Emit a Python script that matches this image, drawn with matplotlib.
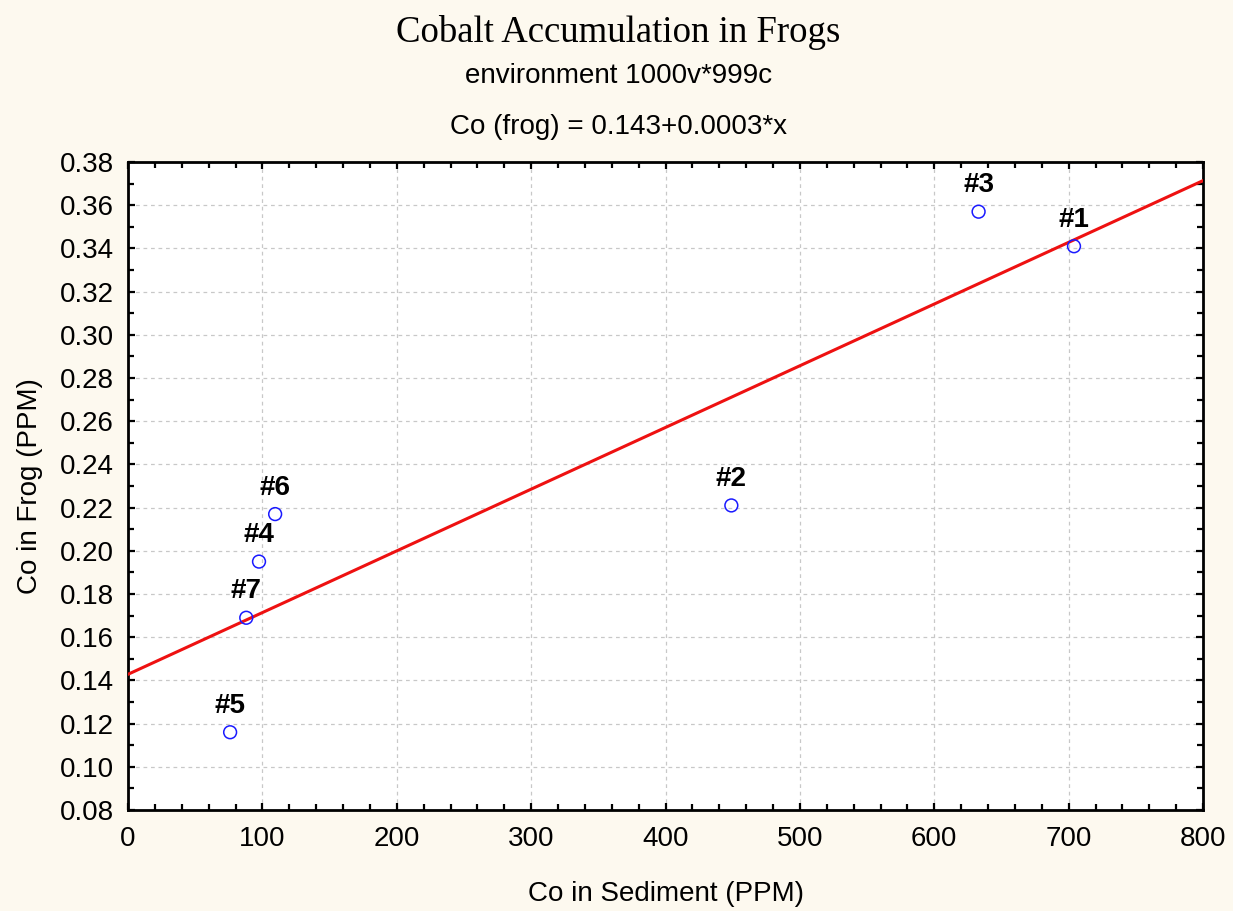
import numpy as np
import matplotlib
matplotlib.use("Agg")
import matplotlib.pyplot as plt
from matplotlib.ticker import MultipleLocator, FormatStrFormatter

# Cobalt in sediment vs. cobalt in frog tissue (PPM)
sites = ["#1", "#2", "#3", "#4", "#5", "#6", "#7"]
sediment = [704, 449, 633, 97.5, 76, 109.5, 88]
frog = [0.341, 0.221, 0.357, 0.195, 0.116, 0.217, 0.169]

x_ticks = [0, 100, 200, 300, 400, 500, 600, 700, 800]
y_ticks = [0.08, 0.10, 0.12, 0.14, 0.16, 0.18, 0.20, 0.22, 0.24, 0.26,
           0.28, 0.30, 0.32, 0.34, 0.36, 0.38]

bg = "#fdf9ef"
sans = ["Liberation Sans", "DejaVu Sans"]
serif = ["Liberation Serif", "DejaVu Serif"]
fs = 20

fig = plt.figure(figsize=(12.33, 9.11), dpi=100, facecolor=bg)
ax = fig.add_axes([128 / 1233, 1 - 810 / 911, 1075 / 1233, 648 / 911])
ax.set_facecolor("white")

# least-squares fit drawn across the full x range
slope, intercept = np.polyfit(sediment, frog, 1)
xx = np.array([x_ticks[0], x_ticks[-1]])
ax.plot(xx, intercept + slope * xx, color="#ee1111", lw=2.2, zorder=3)

ax.scatter(sediment, frog, s=85, facecolors="none", edgecolors="#1a1aff",
           linewidths=1.1, zorder=4)
for name, xv, yv in zip(sites, sediment, frog):
    ax.annotate(name, (xv, yv), xytext=(0, 19), textcoords="offset points",
                ha="center", va="center", fontsize=fs, fontweight="bold",
                family=sans, color="black", zorder=5)

ax.set_xlim(x_ticks[0], x_ticks[-1])
ax.set_ylim(y_ticks[0], y_ticks[-1])
ax.set_xticks(x_ticks)
ax.set_yticks(y_ticks)
ax.xaxis.set_minor_locator(MultipleLocator(20))
ax.yaxis.set_minor_locator(MultipleLocator(0.01))
ax.yaxis.set_major_formatter(FormatStrFormatter("%.2f"))
ax.tick_params(which="both", direction="in", top=True, right=True,
               width=1.6, labelsize=fs, pad=10)
ax.tick_params(axis="x", which="both", pad=11.5)
ax.tick_params(which="major", length=5)
ax.tick_params(which="minor", length=4)
for lbl in ax.get_xticklabels() + ax.get_yticklabels():
    lbl.set_family(sans)
for sp in ax.spines.values():
    sp.set_linewidth(2)

ax.grid(True, which="major", color="#c8c8c8", linestyle=(0, (3, 3)), lw=0.9)
ax.set_axisbelow(True)

ax.set_xlabel("Co in Sediment (PPM)", fontsize=fs, family=sans, labelpad=21)
ax.set_ylabel("Co in Frog (PPM)", fontsize=fs, family=sans, labelpad=12)

fig.text(0.5015, 1 - 32 / 911, "Cobalt Accumulation in Frogs", ha="center",
         va="center", fontsize=26.5, family=serif)
fig.text(0.5015, 1 - 76 / 911, "environment 1000v*999c", ha="center",
         va="center", fontsize=fs, family=sans)
fig.text(0.5015, 1 - 127 / 911, "Co (frog) = 0.143+0.0003*x", ha="center",
         va="center", fontsize=fs, family=sans)

fig.savefig("out.png", dpi=100, facecolor=bg)
